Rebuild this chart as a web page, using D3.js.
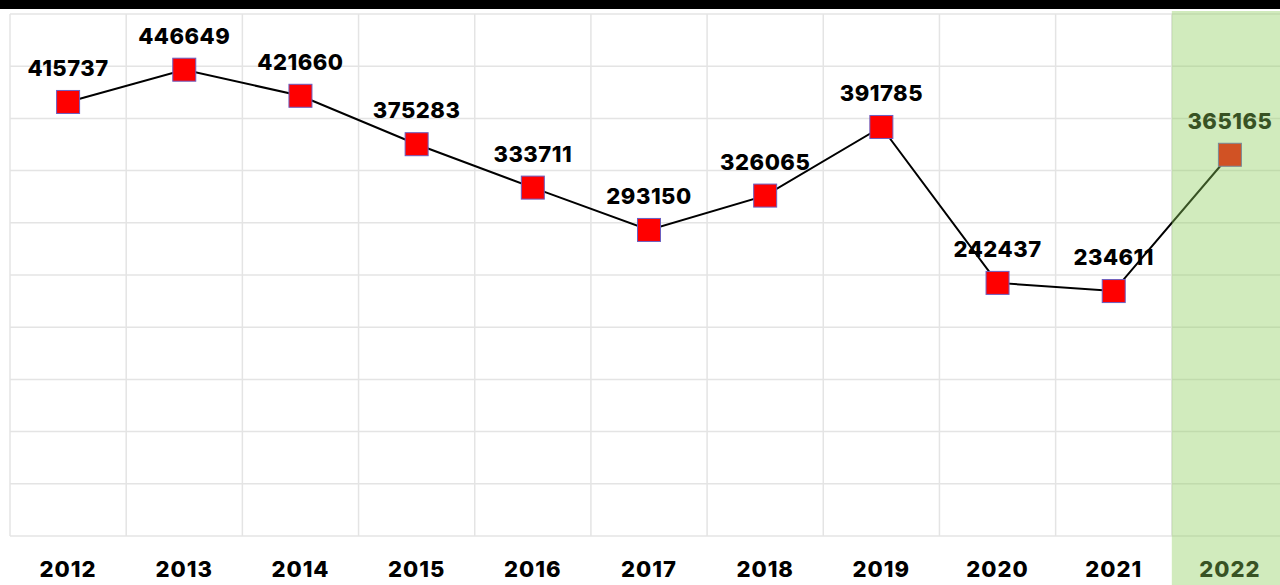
<!DOCTYPE html>
<html>
<head>
<meta charset="utf-8">
<script src="https://cdn.jsdelivr.net/npm/d3@7"></script>
<style>
  html, body { margin: 0; padding: 0; background: #fff; }
  svg text { font-family: Inter, "Noto Sans", sans-serif; font-weight: 800; }
</style>
</head>
<body>
<div id="chart"></div>
<script>
// données
var years = ["2012","2013","2014","2015","2016","2017","2018","2019","2020","2021","2022"];
var values = [415737, 446649, 421660, 375283, 333711, 293150, 326065, 391785, 242437, 234611, 365165];
var yTicks = [0, 50000, 100000, 150000, 200000, 250000, 300000, 350000, 400000, 450000, 500000];
var highlightYear = "2022";

var width = 1280, height = 585;

var svg = d3.select("#chart").append("svg")
    .attr("width", width)
    .attr("height", height);

var x = d3.scaleBand().domain(years).range([10, 1288]);
var y = d3.scaleLinear().domain([0, 500000]).range([536, 14]);

var data = years.map(function(d, i) { return { year: d, value: values[i] }; });

// grille horizontale
svg.append("g")
  .selectAll("line")
  .data(yTicks)
  .enter().append("line")
    .attr("x1", 10).attr("x2", width)
    .attr("y1", function(d) { return y(d); })
    .attr("y2", function(d) { return y(d); })
    .attr("stroke", "#e4e4e4")
    .attr("stroke-width", 1.5);

// grille verticale
svg.append("g")
  .selectAll("line")
  .data(years)
  .enter().append("line")
    .attr("x1", function(d) { return x(d); })
    .attr("x2", function(d) { return x(d); })
    .attr("y1", y(500000)).attr("y2", y(0))
    .attr("stroke", "#e4e4e4")
    .attr("stroke-width", 1.5);

// ligne
var line = d3.line()
    .x(function(d) { return x(d.year) + x.bandwidth() / 2; })
    .y(function(d) { return y(d.value); });

svg.append("path")
    .datum(data)
    .attr("fill", "none")
    .attr("stroke", "#000")
    .attr("stroke-width", 2)
    .attr("d", line);

// marqueurs
var size = 23;
svg.append("g")
  .selectAll("rect")
  .data(data)
  .enter().append("rect")
    .attr("x", function(d) { return x(d.year) + x.bandwidth() / 2 - size / 2; })
    .attr("y", function(d) { return y(d.value) - size / 2; })
    .attr("width", size).attr("height", size)
    .attr("fill", "#ff0000")
    .attr("stroke", "#6b5fc0")
    .attr("stroke-width", 1);

// étiquettes des valeurs
svg.append("g")
  .selectAll("text")
  .data(data)
  .enter().append("text")
    .attr("x", function(d) { return x(d.year) + x.bandwidth() / 2; })
    .attr("y", function(d) { return y(d.value) - 26; })
    .attr("text-anchor", "middle")
    .attr("font-size", 22)
    .attr("letter-spacing", 0.5)
    .attr("fill", "#000")
    .text(function(d) { return d.value; });

// années
svg.append("g")
  .selectAll("text")
  .data(years)
  .enter().append("text")
    .attr("x", function(d) { return x(d) + x.bandwidth() / 2; })
    .attr("y", 577)
    .attr("text-anchor", "middle")
    .attr("font-size", 22)
    .attr("letter-spacing", 1)
    .attr("fill", "#000")
    .text(function(d) { return d; });

// bande verte (année en cours)
svg.append("rect")
    .attr("x", x(highlightYear))
    .attr("y", 11)
    .attr("width", width - x(highlightYear))
    .attr("height", height - 11)
    .attr("fill", "#8ccc5a")
    .attr("fill-opacity", 0.4);

// barre noire en haut
svg.append("rect")
    .attr("x", 0).attr("y", 0)
    .attr("width", width).attr("height", 9)
    .attr("fill", "#000");
</script>
</body>
</html>
